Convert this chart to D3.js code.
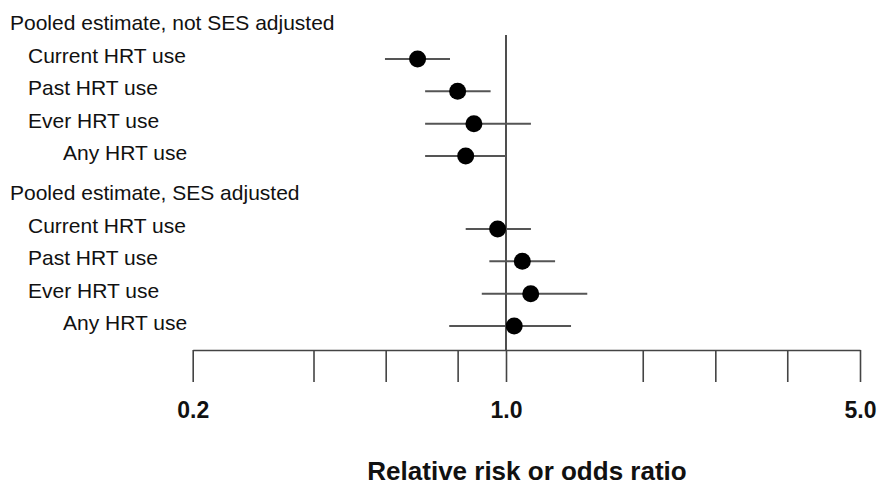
<!DOCTYPE html>
<html>
<head>
<meta charset="utf-8">
<script src="https://cdn.jsdelivr.net/npm/d3@7"></script>
<style>
  body { margin: 0; background: #fff; }
  text { font-family: "Liberation Sans", Arial, Helvetica, sans-serif; }
</style>
</head>
<body>
<div id="chart"></div>
<script>
// two groups, each with a heading and four rows
var groups    = ["Pooled estimate, not SES adjusted", "Pooled estimate, SES adjusted"];
var rowLabels = ["Current HRT use", "Past HRT use", "Ever HRT use", "Any HRT use"];
var rowIndent = [1, 1, 1, 2];

// estimates and 95% CI per group, in the row order above
var estimate = [[0.635, 0.78, 0.848, 0.813], [0.958, 1.077, 1.119, 1.038]];
var lower    = [[0.537, 0.66, 0.66, 0.66],   [0.813, 0.918, 0.883, 0.747]];
var upper    = [[0.75, 0.924, 1.12, 1.0],    [1.12, 1.25, 1.447, 1.344]];

var tickVals   = [0.2, 0.372, 0.539, 0.78, 1.0, 1.862, 2.59, 3.592, 5.0];
var tickLabels = ["0.2", "", "", "", "1.0", "", "", "", "5.0"];

// set the dimensions
var W = 877, H = 486;
var axisY = 350;

var svg = d3.select("#chart")
  .append("svg")
    .attr("width", W)
    .attr("height", H);

// the axis of the figure is drawn piecewise: 0.2 -> 1.0 is shorter than 1.0 -> 5.0
var x = d3.scaleLog()
    .domain([0.2, 1, 5])
    .range([192.7, 506, 860]);

// rows inside a group, and group offset
var yRow = d3.scaleLinear().domain([0, 3]).range([59, 156]);
var groupStep = 170;
var headGap = 37;
function rowY(g, r) { return yRow(r) + g * groupStep; }

// build flat list of points
var pts = [];
groups.forEach(function(gname, g) {
  rowLabels.forEach(function(lab, r) {
    pts.push({g: g, r: r, label: lab, est: estimate[g][r], lo: lower[g][r], hi: upper[g][r]});
  });
});

// group headings
svg.selectAll(".head")
  .data(groups)
  .enter()
  .append("text")
    .attr("class", "head")
    .attr("x", 10)
    .attr("y", function(d, g) { return rowY(g, 0) - headGap + 8; })
    .style("font-size", "21px")
    .style("fill", "#111")
    .text(function(d) { return d; });

// row labels
svg.selectAll(".rowlab")
  .data(pts)
  .enter()
  .append("text")
    .attr("class", "rowlab")
    .attr("x", function(d) { return rowIndent[d.r] == 2 ? 63 : 28; })
    .attr("y", function(d) { return rowY(d.g, d.r) + 4; })
    .style("font-size", "21px")
    .style("fill", "#111")
    .text(function(d) { return d.label; });

// reference line at 1.0
svg.append("line")
    .attr("x1", x(1)).attr("x2", x(1))
    .attr("y1", 35).attr("y2", axisY)
    .style("stroke", "#222")
    .style("stroke-width", 1.6);

// X axis
var xAxis = svg.append("g")
    .attr("transform", "translate(0," + axisY + ")")
    .call(d3.axisBottom(x)
      .tickValues(tickVals)
      .tickSize(32)
      .tickSizeOuter(0)
      .tickPadding(20)
      .tickFormat(function(d, i) { return tickLabels[i]; }));

xAxis.select(".domain").style("stroke", "#444").style("stroke-width", 1.6);
xAxis.selectAll(".tick line").style("stroke", "#444").style("stroke-width", 1.6);
xAxis.selectAll(".tick text")
    .style("font-family", "'Liberation Sans', Arial, sans-serif")
    .style("font-size", "23px")
    .style("font-weight", "bold")
    .style("fill", "#111");

// axis title
svg.append("text")
    .attr("x", 527)
    .attr("y", 480)
    .attr("text-anchor", "middle")
    .style("font-size", "26px")
    .style("font-weight", "bold")
    .style("fill", "#111")
    .text("Relative risk or odds ratio");

// confidence intervals
svg.selectAll(".ci")
  .data(pts)
  .enter()
  .append("line")
    .attr("class", "ci")
    .attr("x1", function(d) { return x(d.lo); })
    .attr("x2", function(d) { return x(d.hi); })
    .attr("y1", function(d) { return rowY(d.g, d.r); })
    .attr("y2", function(d) { return rowY(d.g, d.r); })
    .style("stroke", "#555")
    .style("stroke-width", 2);

// point estimates
svg.selectAll(".pt")
  .data(pts)
  .enter()
  .append("circle")
    .attr("class", "pt")
    .attr("cx", function(d) { return x(d.est); })
    .attr("cy", function(d) { return rowY(d.g, d.r); })
    .attr("r", 8.5)
    .style("fill", "#000");
</script>
</body>
</html>
